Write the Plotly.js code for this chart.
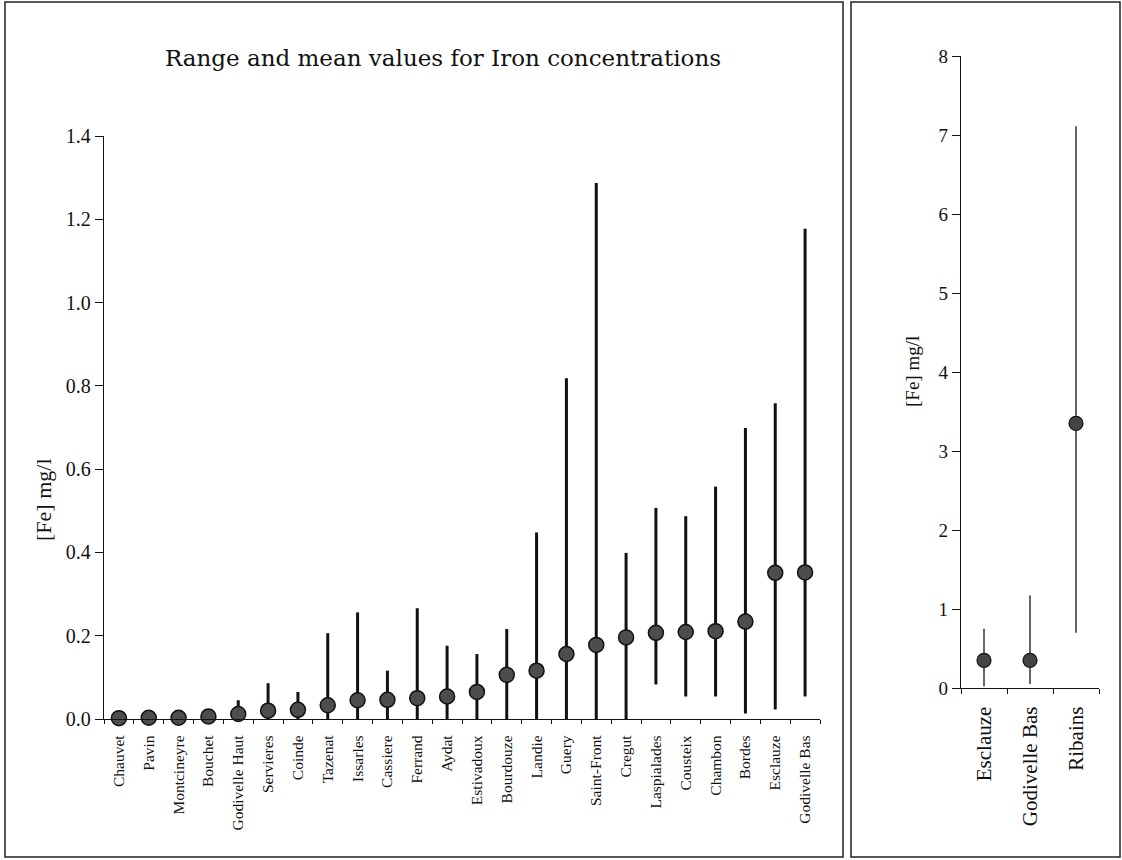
<!DOCTYPE html>
<html>
<head>
<meta charset="utf-8">
<script src="https://cdn.plot.ly/plotly-3.0.1.min.js"></script>
<style>html,body{margin:0;padding:0;background:#fff;}#chart{width:1122px;height:860px;}</style>
</head>
<body>
<div id="chart"></div>
<script>
// Left panel data
const lakes = ["Chauvet","Pavin","Montcineyre","Bouchet","Godivelle Haut","Servieres","Coinde","Tazenat","Issarles","Cassiere","Ferrand","Aydat","Estivadoux","Bourdouze","Landie","Guery","Saint-Front","Cregut","Laspialades","Cousteix","Chambon","Bordes","Esclauze","Godivelle Bas"];
const meanFe = [0.002,0.003,0.003,0.006,0.012,0.020,0.022,0.033,0.045,0.046,0.050,0.054,0.065,0.106,0.116,0.156,0.178,0.196,0.207,0.209,0.211,0.234,0.351,0.352];
const maxFe  = [0.004,0.005,0.006,0.010,0.045,0.086,0.065,0.206,0.256,0.116,0.266,0.176,0.156,0.216,0.448,0.818,1.287,0.399,0.507,0.487,0.558,0.699,0.758,1.177];
const minFe  = [0,0,0,0,0,0,0,0,0,0,0,0,0,0,0,0,0,0,0.083,0.054,0.054,0.013,0.023,0.054];

// Right panel data
const lakes2 = ["Esclauze","Godivelle Bas","Ribains"];
const meanFe2 = [0.35,0.35,3.35];
const maxFe2  = [0.75,1.17,7.11];
const minFe2  = [0.02,0.05,0.70];

const W = 1122, H = 860;
const serif = "Liberation Serif, Times New Roman, serif";

const trace1 = {
  type: "scatter", mode: "markers", x: lakes, y: meanFe,
  xaxis: "x", yaxis: "y", cliponaxis: false,
  marker: {size: 15, color: "#4d4d4d", line: {color: "#111111", width: 1.5}},
  error_y: {type: "data", symmetric: false,
    array: maxFe.map((v,i)=>v-meanFe[i]),
    arrayminus: minFe.map((v,i)=>meanFe[i]-v),
    color: "#111111", thickness: 3, width: 0}
};
const trace2 = {
  type: "scatter", mode: "markers", x: lakes2, y: meanFe2,
  xaxis: "x2", yaxis: "y2", cliponaxis: false,
  marker: {size: 14, color: "#444444", line: {color: "#111111", width: 1.2}},
  error_y: {type: "data", symmetric: false,
    array: maxFe2.map((v,i)=>v-meanFe2[i]),
    arrayminus: minFe2.map((v,i)=>meanFe2[i]-v),
    color: "#333333", thickness: 1.5, width: 0}
};

const layout = {
  width: W, height: H,
  margin: {l: 0, r: 0, t: 0, b: 0},
  paper_bgcolor: "#ffffff", plot_bgcolor: "#ffffff",
  showlegend: false,
  font: {family: serif, color: "#111111"},
  title: {text: "Range and mean values for Iron concentrations",
    x: 443/W, y: 1 - 58/H, xanchor: "center", yanchor: "middle", xref: "paper", yref: "paper",
    font: {family: "DejaVu Serif, serif", size: 23, color: "#111111"}},
  xaxis: {
    domain: [104/W, 820/W], anchor: "y",
    type: "category", range: [-0.5, 23.5],
    showline: true, linecolor: "#111111", linewidth: 1.2,
    ticks: "outside", ticklen: 4, tickcolor: "#111111", tickson: "boundaries",
    ticklabelstandoff: 9,
    tickangle: -90, tickfont: {family: serif, size: 15.5, color: "#111111"},
    showgrid: false, zeroline: false, fixedrange: true
  },
  yaxis: {
    domain: [1 - 719/H, 1 - 136/H], anchor: "x",
    range: [0, 1.4], dtick: 0.2, tickformat: ".1f",
    showline: true, linecolor: "#111111", linewidth: 1.2,
    ticks: "outside", ticklen: 8, tickcolor: "#111111",
    tickfont: {family: serif, size: 20, color: "#111111"},
    showgrid: false, zeroline: false, fixedrange: true
  },
  xaxis2: {
    domain: [961/W, 1099/W], anchor: "y2",
    type: "category", range: [-0.5, 2.5],
    showline: true, linecolor: "#111111", linewidth: 1.2,
    ticks: "outside", ticklen: 5, tickcolor: "#111111", tickson: "boundaries",
    ticklabelstandoff: 9,
    tickangle: -90, tickfont: {family: serif, size: 21, color: "#111111"},
    showgrid: false, zeroline: false, fixedrange: true
  },
  yaxis2: {
    domain: [1 - 688/H, 1 - 56/H], anchor: "x2",
    range: [0, 8], dtick: 1,
    showline: true, linecolor: "#111111", linewidth: 1.2,
    ticks: "outside", ticklen: 8, tickcolor: "#111111",
    tickfont: {family: serif, size: 19, color: "#111111"},
    showgrid: false, zeroline: false, fixedrange: true
  },
  annotations: [
    {text: "[Fe] mg/l", xref: "paper", yref: "paper", x: 43/W, y: 1 - 500/H,
     xanchor: "center", yanchor: "middle", textangle: -90, showarrow: false,
     font: {family: serif, size: 22, color: "#111111"}},
    {text: "[Fe] mg/l", xref: "paper", yref: "paper", x: 913/W, y: 1 - 372/H,
     xanchor: "center", yanchor: "middle", textangle: -90, showarrow: false,
     font: {family: serif, size: 19, color: "#111111"}}
  ],
  shapes: [
    {type: "rect", xref: "paper", yref: "paper", x0: 5/W, x1: 843/W, y0: 1 - 857/H, y1: 1 - 2/H,
     line: {color: "#222222", width: 1.5}},
    {type: "rect", xref: "paper", yref: "paper", x0: 851/W, x1: 1120/W, y0: 1 - 857/H, y1: 1 - 2/H,
     line: {color: "#222222", width: 1.5}}
  ]
};

Plotly.newPlot("chart", [trace1, trace2], layout, {staticPlot: true, displayModeBar: false});
</script>
</body>
</html>
